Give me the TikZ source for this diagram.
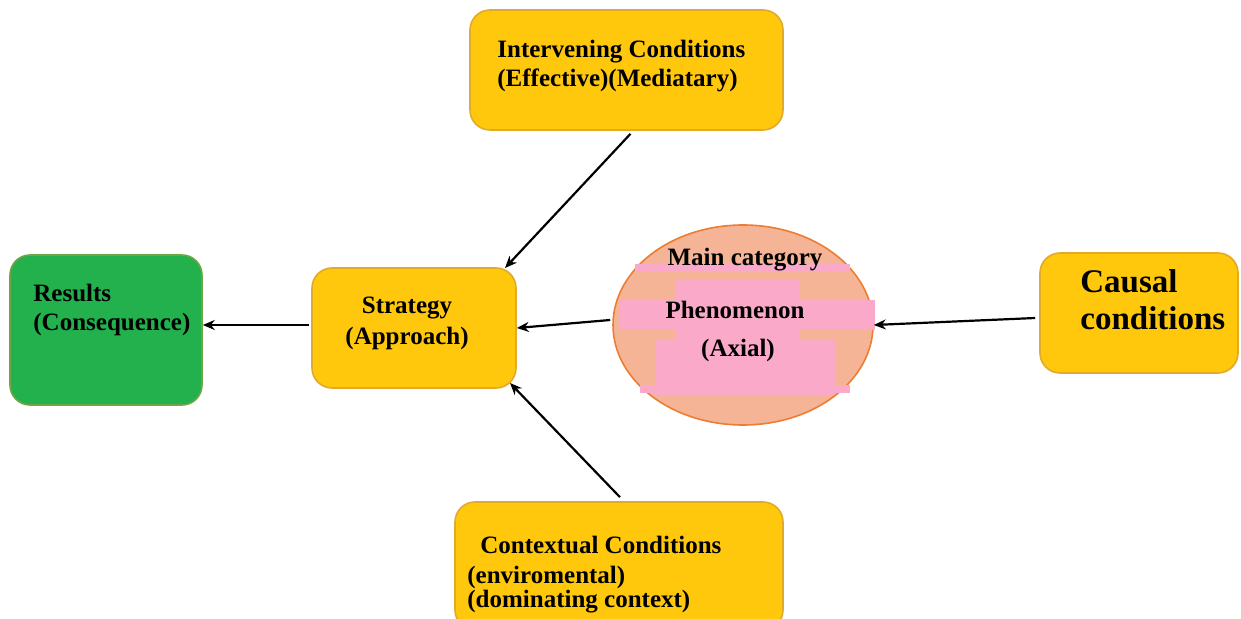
\documentclass[tikz,border=0pt]{standalone}
\usepackage{fontspec}
\setmainfont{Liberation Serif}
\usetikzlibrary{arrows.meta, shapes.geometric, calc}
\definecolor{gold}{RGB}{255,200,12}
\definecolor{goldline}{RGB}{225,170,40}
\definecolor{leaf}{RGB}{34,177,76}
\definecolor{leafline}{RGB}{110,165,70}
\definecolor{salmon}{RGB}{245,180,150}
\definecolor{salmonline}{RGB}{237,125,49}
\definecolor{blush}{RGB}{250,170,200}
\tikzset{condbox/.style={draw=goldline, line width=0.8pt, fill=gold, rounded corners=10pt},
  resbox/.style={draw=leafline, line width=0.8pt, fill=leaf, rounded corners=10pt},
  lbl/.style={font=\bfseries\fontsize{12.5}{14.5}\selectfont, inner sep=0pt, align=left},
  link/.style={-{Stealth[length=6pt,width=5pt]}, line width=1.1pt}
}

\begin{document}
\begin{tikzpicture}[x=0.5pt,y=-0.5pt]
      \useasboundingbox (0,0) rectangle (1241,619);
      \node[condbox, minimum width=156.5pt, minimum height=60pt] (interv) at (626.5,70) {};
      \node[resbox, minimum width=96pt, minimum height=75pt] (result) at (106,330) {};
      \node[condbox, minimum width=102pt, minimum height=60pt] (strat) at (414,328) {};
      \node[condbox, minimum width=99pt, minimum height=60pt] (causal) at (1139,313) {};
      \node[condbox, minimum width=164pt, minimum height=64pt] (context) at (619,566) {};
      \node[ellipse, draw=salmonline, line width=0.8pt, fill=salmon, minimum width=130pt, minimum height=100pt, inner sep=0pt] (phen) at (743,325) {};
      % pink patches inside the ellipse
      \begin{scope}
        \clip (743,325) ellipse (129pt and 99pt);
        \fill[blush] (635,264) rectangle (850,272);
        \fill[blush] (675,280) rectangle (800,395);
        \fill[blush] (620,300) rectangle (875,330);
        \fill[blush] (655,340) rectangle (835,395);
        \fill[blush] (640,385) rectangle (850,393);
      \end{scope}
      \node[lbl, anchor=west] (intervtxt) at (497,66) {Intervening Conditions\\(Effective)(Mediatary)};
      \node[lbl, anchor=west] (resulttxt) at (33,310) {Results\\(Consequence)};
      \node[lbl, align=center] (strattxt) at (407,323) {Strategy\\[1pt](Approach)};
      \node[lbl, font=\bfseries\fontsize{16.5}{18.5}\selectfont, anchor=west] (causaltxt) at (1080,300) {Causal\\conditions};
      \node[lbl, anchor=west] (contexttxt) at (480,545) {Contextual Conditions};
      \node[lbl, font=\bfseries\fontsize{12.5}{12}\selectfont, anchor=west] (envtxt) at (467,590) {(enviromental)\\(dominating context)};
      \node[lbl] (maintxt) at (745,260) {Main category};
      \node[lbl] (phentxt) at (735,310) {Phenomenon};
      \node[lbl] (axialtxt) at (738,350) {(Axial)};
      \draw[link] (interv.south)++(4,3) -- (505,268);
      \draw[link] (context.north)++(1,-4) -- (510,383);
      \draw[link] (phen.west)++(-2,-5) -- (strat.east);
      \draw[link] (causal.west)++(-4,5) -- (phen.east);
      \draw[link] ($(strat.west)+(-2,-3)$) -- ($(result.east)+(0,-5)$);
    \end{tikzpicture}
\end{document}
